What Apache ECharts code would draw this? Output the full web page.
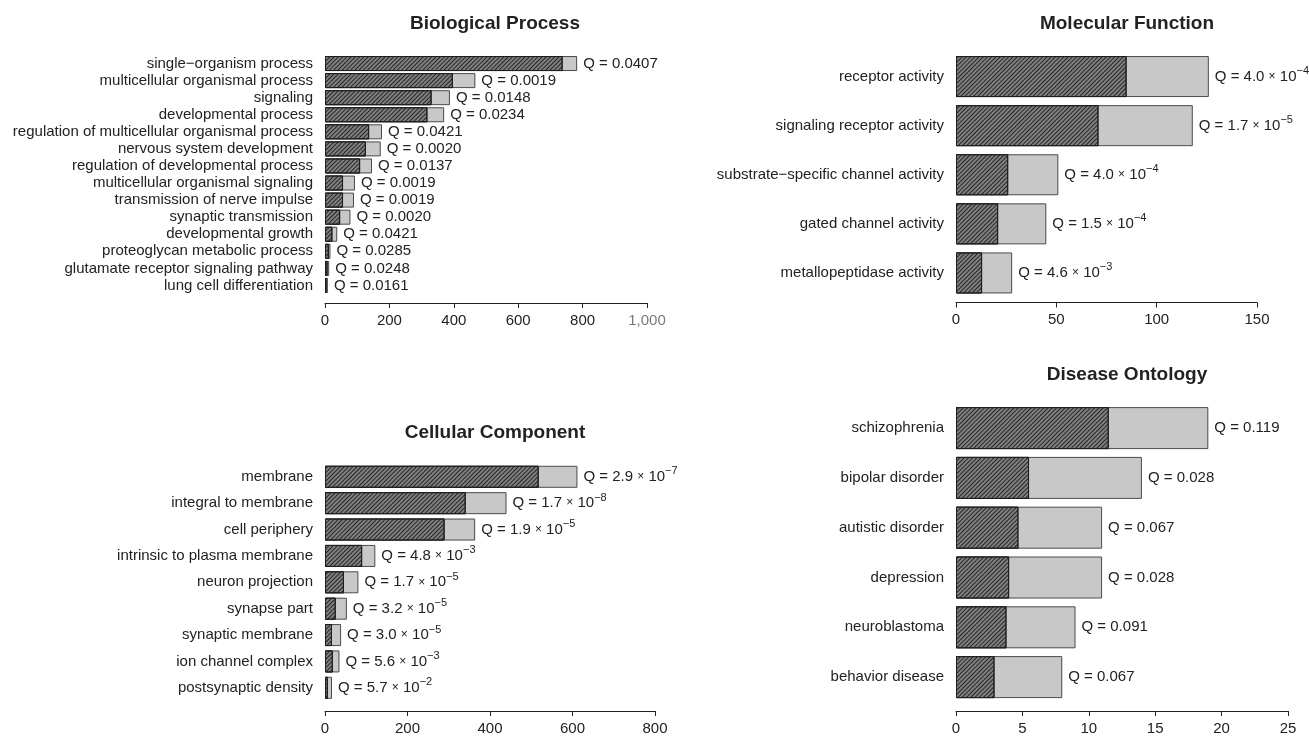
<!DOCTYPE html>
<html>
<head>
<meta charset="utf-8">
<script src="https://cdn.jsdelivr.net/npm/echarts@6/dist/echarts.min.js"></script>
<style>
html,body{margin:0;padding:0;background:#fff;}
#chart{width:1309px;height:736px;}
</style>
</head>
<body>
<div id="chart"></div>
<script>
// ---- Biological Process ----
const bpCategories = ['single\u2212organism process','multicellular organismal process','signaling','developmental process','regulation of multicellular organismal process','nervous system development','regulation of developmental process','multicellular organismal signaling','transmission of nerve impulse','synaptic transmission','developmental growth','proteoglycan metabolic process','glutamate receptor signaling pathway','lung cell differentiation'];
const bpSignificant = [738, 397, 331, 318, 137, 127, 109, 56, 56, 47, 23, 12, 8, 5];
const bpTotal = [783, 467, 388, 370, 177, 173, 146, 93, 90, 79, 38, 17, 13, 9];
const bpQ = ['0.0407','0.0019','0.0148','0.0234','0.0421','0.0020','0.0137','0.0019','0.0019','0.0020','0.0421','0.0285','0.0248','0.0161'];
const bpTicks = [0, 200, 400, 600, 800, 1000];

// ---- Molecular Function ----
const mfCategories = ['receptor activity','signaling receptor activity','substrate\u2212specific channel activity','gated channel activity','metallopeptidase activity'];
const mfSignificant = [85, 71, 26, 21, 13];
const mfTotal = [126, 118, 51, 45, 28];
const mfQMantissa = ['4.0','1.7','4.0','1.5','4.6'];
const mfQExponent = ['\u22124','\u22125','\u22124','\u22124','\u22123'];
const mfTicks = [0, 50, 100, 150];

// ---- Cellular Component ----
const ccCategories = ['membrane','integral to membrane','cell periphery','intrinsic to plasma membrane','neuron projection','synapse part','synaptic membrane','ion channel complex','postsynaptic density'];
const ccSignificant = [518, 341, 290, 90, 46, 26, 17, 19, 7];
const ccTotal = [612, 440, 364, 122, 81, 53, 39, 35, 17];
const ccQMantissa = ['2.9','1.7','1.9','4.8','1.7','3.2','3.0','5.6','5.7'];
const ccQExponent = ['\u22127','\u22128','\u22125','\u22123','\u22125','\u22125','\u22125','\u22123','\u22122'];
const ccTicks = [0, 200, 400, 600, 800];

// ---- Disease Ontology ----
const doCategories = ['schizophrenia','bipolar disorder','autistic disorder','depression','neuroblastoma','behavior disease'];
const doSignificant = [11.5, 5.5, 4.7, 4.0, 3.8, 2.9];
const doTotal = [19, 14, 11, 11, 9, 8];
const doQ = ['0.119','0.028','0.067','0.028','0.091','0.067'];
const doTicks = [0, 5, 10, 15, 20, 25];

const FONT = '"Liberation Sans", Arial, Helvetica, sans-serif';
const TEXT = '#222';

const panels = [
  {title:'Biological Process', tx:495, ty:24, cats:bpCategories, sig:bpSignificant, tot:bpTotal, ticks:bpTicks,
   grid:{left:325, top:55, width:322, height:239}, bar:15, offset:9,
   q:(i)=>'Q = ' + bpQ[i]},
  {title:'Molecular Function', tx:1127, ty:24, cats:mfCategories, sig:mfSignificant, tot:mfTotal, ticks:mfTicks,
   grid:{left:956, top:52, width:301, height:245.5}, bar:41, offset:5,
   q:(i)=>'Q = ' + mfQMantissa[i] + ' {x|\u00d7} 10{sup|' + mfQExponent[i] + '}'},
  {title:'Cellular Component', tx:495, ty:433, cats:ccCategories, sig:ccSignificant, tot:ccTotal, ticks:ccTicks,
   grid:{left:325, top:463.6, width:330, height:240.75}, bar:22, offset:10,
   q:(i)=>'Q = ' + ccQMantissa[i] + ' {x|\u00d7} 10{sup|' + ccQExponent[i] + '}'},
  {title:'Disease Ontology', tx:1127, ty:375, cats:doCategories, sig:doSignificant, tot:doTotal, ticks:doTicks,
   grid:{left:956, top:403.2, width:332, height:300.8}, bar:42, offset:9,
   q:(i)=>'Q = ' + doQ[i]}
];

const grids = [], xAxes = [], yAxes = [], series = [], graphics = [];
panels.forEach((p, k) => {
  grids.push(Object.assign({}, p.grid));
  const tk = p.ticks;
  xAxes.push({
    type:'value', gridIndex:k, min:tk[0], max:tk[tk.length-1], interval:tk[1]-tk[0],
    offset:p.offset,
    axisLine:{show:true, lineStyle:{color:TEXT, width:1}},
    axisTick:{show:true, length:5, lineStyle:{color:TEXT}},
    splitLine:{show:false},
    axisLabel:{fontFamily:FONT, fontSize:15, margin:10,
      color:(v)=> (Number(v) === 1000 ? '#7a7a7a' : TEXT),
      formatter:(v)=> v >= 1000 ? v.toLocaleString('en-US') : String(v)}
  });
  yAxes.push({
    type:'category', gridIndex:k, data:p.cats, inverse:true,
    axisLine:{show:false}, axisTick:{show:false},
    axisLabel:{fontFamily:FONT, fontSize:15, color:TEXT, margin:12, interval:0}
  });
  series.push({
    type:'bar', xAxisIndex:k, yAxisIndex:k, data:p.tot, barWidth:p.bar, barGap:'-100%',
    itemStyle:{color:'#c8c8c8', borderColor:'#4a4a4a', borderWidth:1},
    label:{show:true, position:'right', distance:6, fontFamily:FONT, fontSize:15, color:TEXT,
      formatter:(prm)=>p.q(prm.dataIndex),
      rich:{
        x:{fontFamily:FONT, fontSize:12, color:TEXT},
        sup:{fontFamily:FONT, fontSize:11, color:TEXT, padding:[0,0,11,0]}
      }},
    silent:true, animation:false
  });
  series.push({
    type:'bar', xAxisIndex:k, yAxisIndex:k, data:p.sig, barWidth:p.bar, barGap:'-100%',
    itemStyle:{color:'#808080', borderColor:'#1e1e1e', borderWidth:1,
      decal:{symbol:'rect', symbolSize:1, color:'#262626', dashArrayX:[1,0], dashArrayY:[1,2], rotation:-Math.PI/4}},
    silent:true, animation:false
  });
  graphics.push({type:'text', x:p.tx, y:p.ty, silent:true,
    style:{text:p.title, font:'bold 19px ' + FONT, fill:TEXT, textAlign:'center', textVerticalAlign:'middle'}});
});

const chart = echarts.init(document.getElementById('chart'), null, {renderer:'canvas'});
chart.setOption({
  backgroundColor:'#fff',
  animation:false,
  grid:grids, xAxis:xAxes, yAxis:yAxes, series:series,
  graphic:graphics
});
</script>
</body>
</html>
